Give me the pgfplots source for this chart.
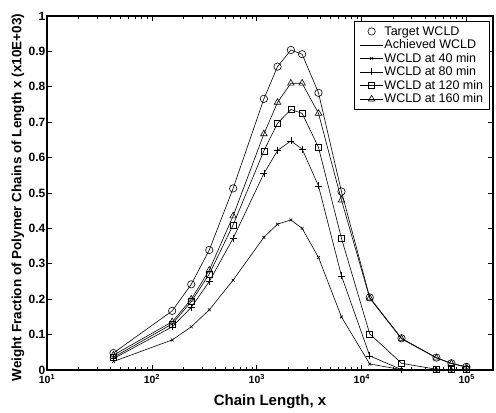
\documentclass[border=0pt]{standalone}
\usepackage{pgfplots}
\pgfplotsset{compat=1.18}
\usepackage{pgfplotstable}
\usepackage{fontspec}
\setmainfont{Liberation Sans}

% x, target, achieved, 40 min, 80 min, 120 min, 160 min
\pgfplotstableread{
x      tgt    ach    m40   m80   m120  m160
43     0.048  0.048  0.024 0.032 0.036 0.042
156    0.167  0.167  0.085 0.122 0.130 0.136
237    0.242  0.242  0.122 0.177 0.193 0.200
352    0.339  0.339  0.170 0.250 0.271 0.282
594    0.513  0.513  0.254 0.372 0.410 0.435
1167   0.766  0.766  0.375 0.555 0.619 0.667
1574   0.857  0.857  0.412 0.620 0.697 0.756
2109   0.904  0.904  0.424 0.647 0.736 0.810
2700   0.892  0.892  0.400 0.624 0.725 0.810
3866   0.783  0.783  0.318 0.520 0.629 0.725
6400   0.504  0.504  0.150 0.266 0.372 0.480
11900  0.205  0.205  0.017 0.040 0.102 0.203
23900  0.0895 0.0895 0.001 0.001 0.019 0.088
51400  0.035  0.035  0.000 0.000 0.002 0.034
71400  0.019  0.019  0.000 0.000 0.001 0.018
99300  0.009  0.009  0.000 0.000 0.001 0.008
}\wcld

\begin{document}
\begin{tikzpicture}
\begin{axis}[
  scale only axis,
  width=446pt, height=354pt,
  xmode=log,
  xmin=10, xmax=1.78e5,
  ymin=0, ymax=1,
  xtick={10,100,1000,10000,100000},
  xticklabels={10\textsuperscript{1},10\textsuperscript{2},10\textsuperscript{3},10\textsuperscript{4},10\textsuperscript{5}},
  ytick={0,0.1,...,1},
  /pgf/number format/assume math mode=true,
  x tick label style={font=\fontsize{10.5}{12}\selectfont\bfseries, inner sep=0.5pt, yshift=-4pt},
  y tick label style={font=\fontsize{12}{14}\selectfont\bfseries, inner sep=0.5pt, xshift=-1pt},
  tick align=inside,
  major tick length=5pt,
  minor tick length=3pt,
  axis line style={line width=1.1pt},
  every tick/.style={black, line width=0.8pt},
  xlabel={Chain Length, x},
  ylabel={Weight Fraction of Polymer Chains of Length x (x10E+03)},
  xlabel style={font=\fontsize{15}{17}\selectfont\bfseries, at={(axis description cs:0.5,-0.101)}, anchor=base},
  ylabel style={font=\fontsize{13.5}{15}\selectfont\bfseries, at={(axis description cs:-0.065,0.487)}, anchor=center},
  legend style={at={(axis description cs:0.993,0.987)}, anchor=north east,
    draw=black, line width=1.1pt, fill=white,
    font=\fontsize{12.5}{13.5}\selectfont,
    row sep=0.6pt, inner xsep=5pt, inner ysep=4pt,
    nodes={inner sep=1.2pt}},
  legend cell align=left,
  legend image code/.code={\draw[mark repeat=2,mark phase=2,#1] plot coordinates {(0cm,0cm) (0.4cm,0cm) (0.8cm,0cm)};},
  every axis plot/.append style={black, line width=0.6pt, mark options={solid, line width=0.6pt}},
]
\addplot[only marks, mark=o, mark size=3.7pt] table[x=x, y=tgt] {\wcld};
\addplot[no marks] table[x=x, y=ach] {\wcld};
\addplot[mark=x, mark size=2pt] table[x=x, y=m40] {\wcld};
\addplot[mark=+, mark size=3.5pt] table[x=x, y=m80] {\wcld};
\addplot[mark=square, mark size=3pt] table[x=x, y=m120] {\wcld};
\addplot[mark=triangle, mark size=3.8pt] table[x=x, y=m160] {\wcld};
\legend{Target WCLD, Achieved WCLD, WCLD at 40 min, WCLD at 80 min, WCLD at 120 min, WCLD at 160 min}
\end{axis}
\path (current axis.south west) ++(-47pt,-38pt);
\path (current axis.north east) ++(3pt,16pt);
\end{tikzpicture}
\end{document}
